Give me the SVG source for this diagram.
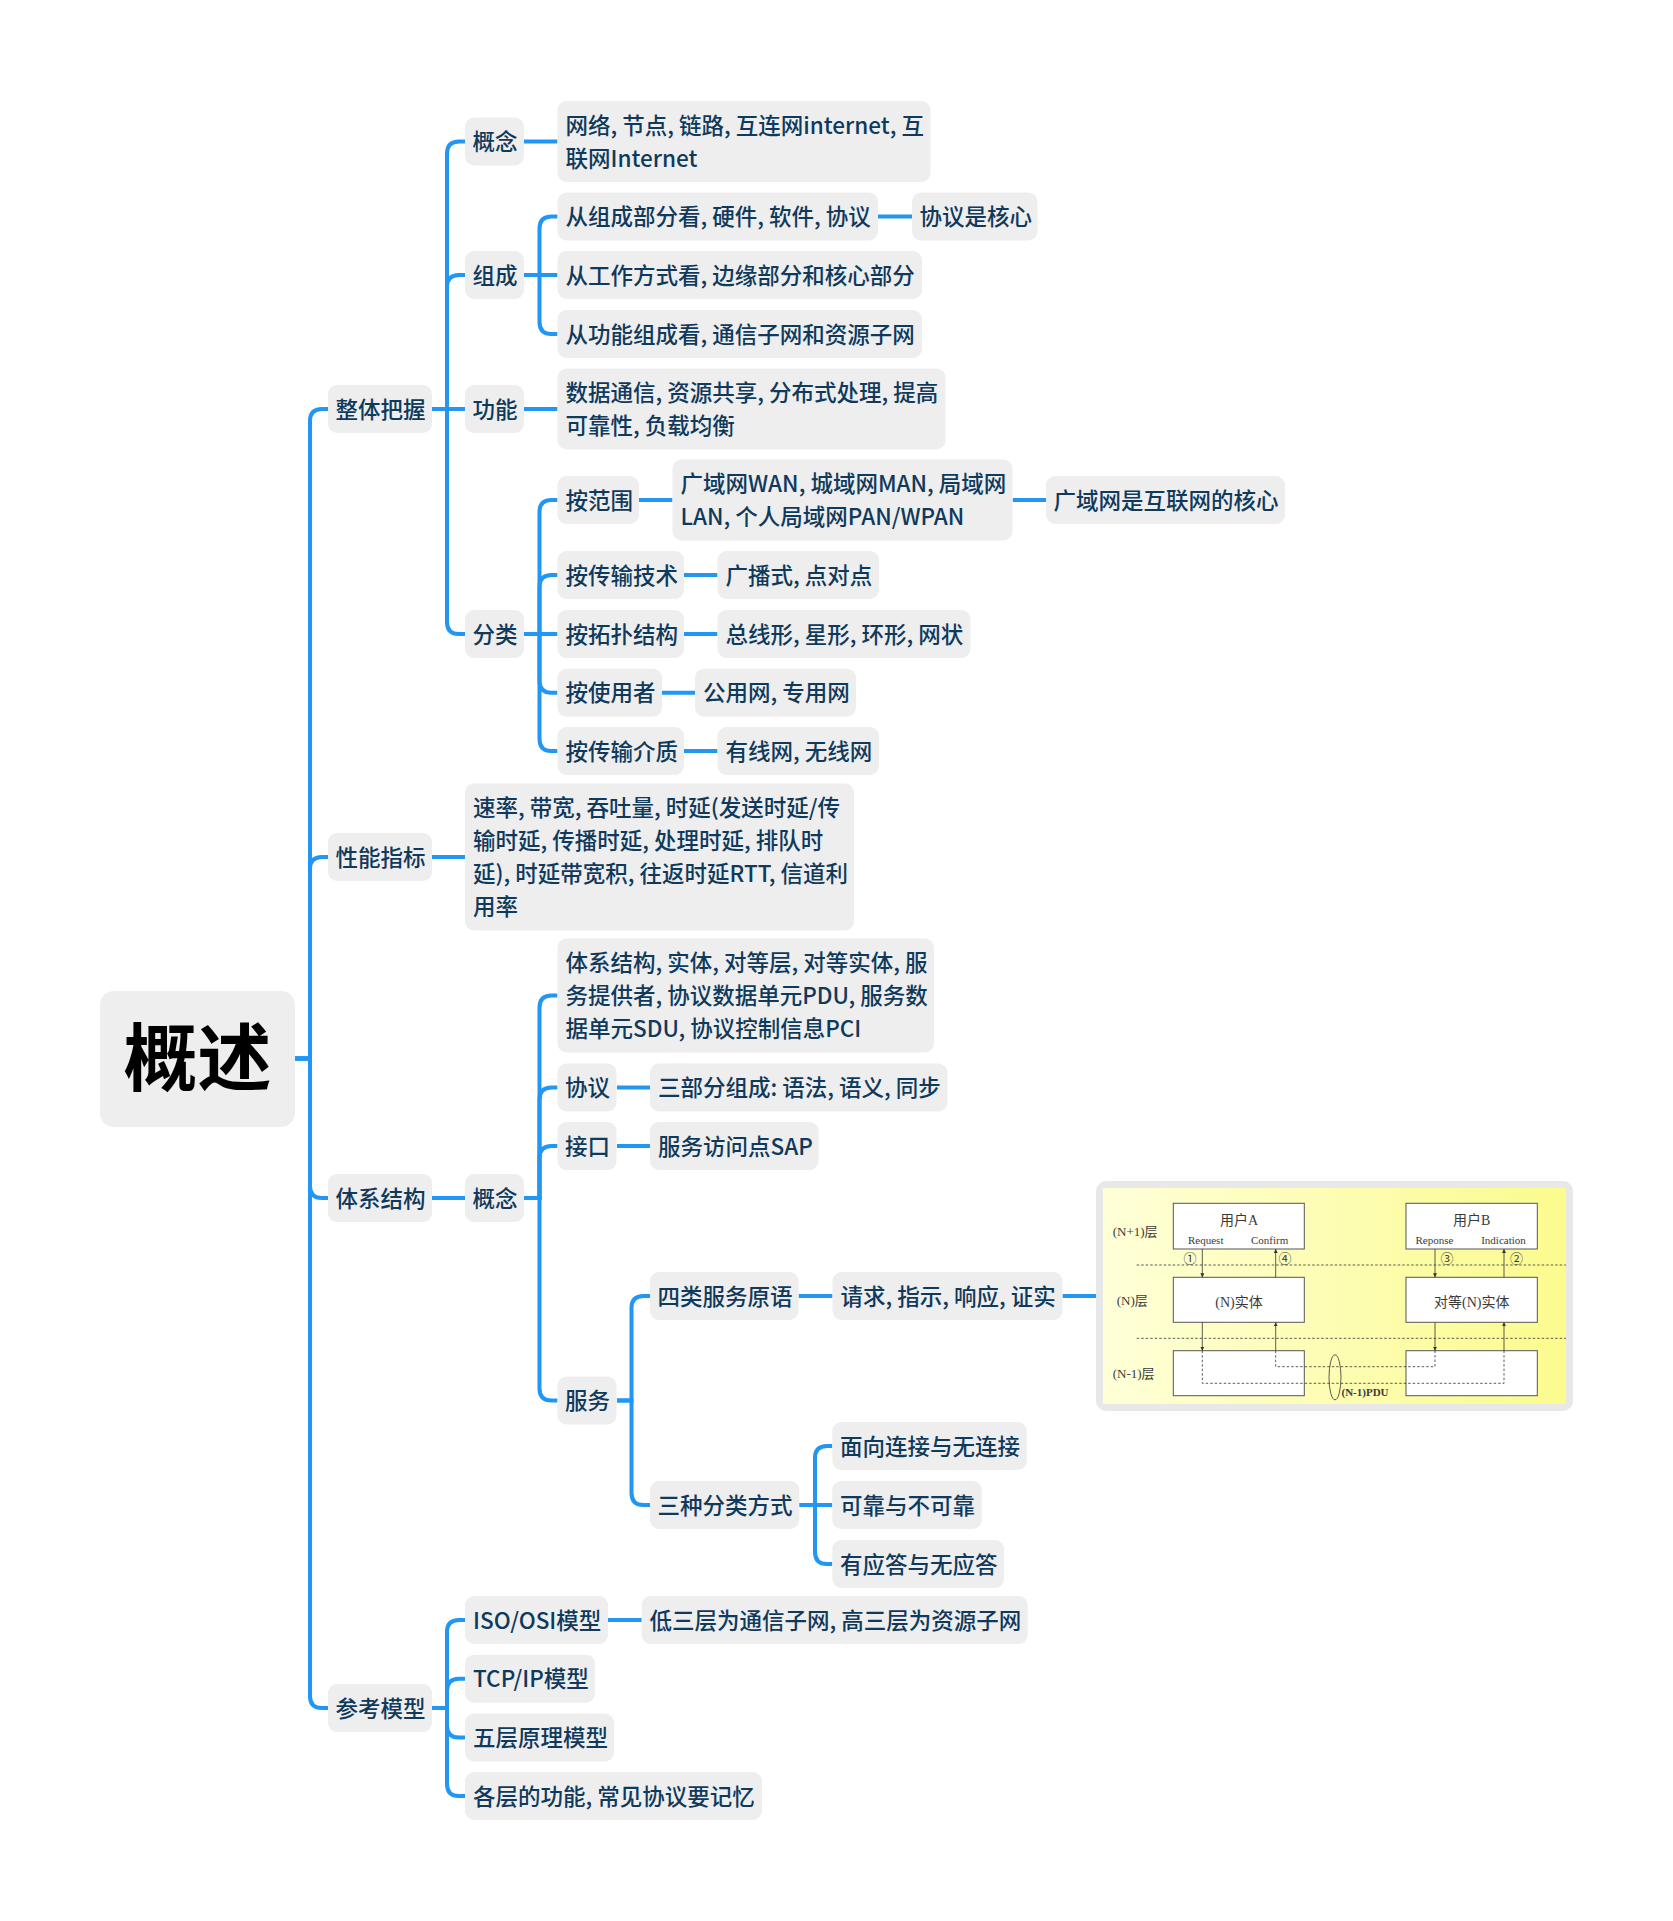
<svg xmlns="http://www.w3.org/2000/svg" width="1673" height="1921" viewBox="0 0 1673 1921">
<style>
.box{fill:#eeeeee}
.t{font-family:"Noto Sans CJK SC","Noto Sans",sans-serif;font-size:22.5px;fill:#103a5c;font-weight:500}
.root{font-family:"Noto Sans CJK SC",sans-serif;font-size:74px;font-weight:700;fill:#000}
.c{fill:none;stroke:#2196f3;stroke-width:4}
.ib{fill:#fff;stroke:#555;stroke-width:1}
.it{font-family:"Liberation Serif","Noto Sans CJK SC",serif;fill:#3a3a3a}
.al{stroke:#333;stroke-width:0.8;fill:none}
.dl{stroke:#333;stroke-width:0.8;fill:none;stroke-dasharray:2.5 2}
</style>
<defs>
<linearGradient id="yg" x1="0" y1="0" x2="1" y2="0">
<stop offset="0" stop-color="#ffffd8"/>
<stop offset="1" stop-color="#fbfb8e"/>
</linearGradient>
<marker id="ah" viewBox="0 0 6 6" refX="6" refY="3" markerWidth="5" markerHeight="5" orient="auto">
<path d="M0,0 L6,3 L0,6 z" fill="#333"/>
</marker>
</defs>
<rect width="1673" height="1921" fill="#fff"/>

<g id="connectors">
<path class="c" d="M295,1058.5 H310 V421 Q310,409 322,409 H328"/>
<path class="c" d="M295,1058.5 H310 V869 Q310,857 322,857 H328"/>
<path class="c" d="M295,1058.5 H310 V1186 Q310,1198 322,1198 H328"/>
<path class="c" d="M295,1058.5 H310 V1696 Q310,1708 322,1708 H328"/>

<path class="c" d="M432,409 H447 V153.5 Q447,141.5 459,141.5 H465"/>
<path class="c" d="M432,409 H447 V287 Q447,275 459,275 H465"/>
<path class="c" d="M432,409 H465"/>
<path class="c" d="M432,409 H447 V622 Q447,634 459,634 H465"/>
<path class="c" d="M432,857 H465"/>
<path class="c" d="M432,1198 H465"/>
<path class="c" d="M432,1708 H447 V1632 Q447,1620 459,1620 H465"/>
<path class="c" d="M432,1708 H447 V1690.7 Q447,1678.7 459,1678.7 H465"/>
<path class="c" d="M432,1708 H447 V1725.5 Q447,1737.5 459,1737.5 H465"/>
<path class="c" d="M432,1708 H447 V1784 Q447,1796 459,1796 H465"/>

<path class="c" d="M524,141.5 H557.5"/>
<path class="c" d="M524,275 H539.5 V228.5 Q539.5,216.5 551.5,216.5 H557.5"/>
<path class="c" d="M524,275 H557.5"/>
<path class="c" d="M524,275 H539.5 V322 Q539.5,334 551.5,334 H557.5"/>
<path class="c" d="M524,409 H557.5"/>
<path class="c" d="M524,634 H539.5 V512 Q539.5,500 551.5,500 H557.5"/>
<path class="c" d="M524,634 H539.5 V587 Q539.5,575 551.5,575 H557.5"/>
<path class="c" d="M524,634 H557.5"/>
<path class="c" d="M524,634 H539.5 V680.7 Q539.5,692.7 551.5,692.7 H557.5"/>
<path class="c" d="M524,634 H539.5 V739 Q539.5,751 551.5,751 H557.5"/>
<path class="c" d="M524,1198 H539.5 V1007.5 Q539.5,995.5 551.5,995.5 H557.5"/>
<path class="c" d="M524,1198 H539.5 V1099.5 Q539.5,1087.5 551.5,1087.5 H557.5"/>
<path class="c" d="M524,1198 H539.5 V1158 Q539.5,1146 551.5,1146 H557.5"/>
<path class="c" d="M524,1198 H539.5 V1388.5 Q539.5,1400.5 551.5,1400.5 H557.5"/>
<path class="c" d="M608,1620 H641.7"/>

<path class="c" d="M878,216.5 H912"/>
<path class="c" d="M639,500 H672.5"/>
<path class="c" d="M1012.7,500 H1046"/>
<path class="c" d="M684,575 H717.5"/>
<path class="c" d="M684,634 H717.5"/>
<path class="c" d="M662,692.7 H695"/>
<path class="c" d="M684,751 H717.5"/>
<path class="c" d="M617,1087.5 H650"/>
<path class="c" d="M617,1146 H650"/>
<path class="c" d="M617,1400.5 H631.5 V1308 Q631.5,1296 643.5,1296 H650"/>
<path class="c" d="M617,1400.5 H631.5 V1493 Q631.5,1505 643.5,1505 H650"/>
<path class="c" d="M798.6,1296 H832.5"/>
<path class="c" d="M1062.5,1296 H1096"/>
<path class="c" d="M799.3,1505 H815 V1458 Q815,1446 827,1446 H832.3"/>
<path class="c" d="M799.3,1505 H832.3"/>
<path class="c" d="M799.3,1505 H815 V1552 Q815,1564 827,1564 H832.3"/>
</g>

<g id="root">
<rect class="box" x="100" y="991" width="195" height="136" rx="14"/>
<text class="root" x="197.5" y="1085" text-anchor="middle">概述</text>
</g>

<g id="n-ztbw"><rect class="box" x="328" y="385" width="104" height="48" rx="9"/><text class="t" x="335.5" y="417.5">整体把握</text></g>
<g id="n-xnzb"><rect class="box" x="328" y="833" width="104" height="48" rx="9"/><text class="t" x="335.5" y="865.5">性能指标</text></g>
<g id="n-txjg"><rect class="box" x="328" y="1174" width="104" height="48" rx="9"/><text class="t" x="335.5" y="1206.5">体系结构</text></g>
<g id="n-ckmx"><rect class="box" x="328" y="1684" width="104" height="48" rx="9"/><text class="t" x="335.5" y="1716.5">参考模型</text></g>

<g id="n-gn1"><rect class="box" x="465" y="117.5" width="59" height="48" rx="9"/><text class="t" x="472.5" y="150">概念</text></g>
<g id="n-zc"><rect class="box" x="465" y="251" width="59" height="48" rx="9"/><text class="t" x="472.5" y="283.5">组成</text></g>
<g id="n-gnen"><rect class="box" x="465" y="385" width="59" height="48" rx="9"/><text class="t" x="472.5" y="417.5">功能</text></g>
<g id="n-fl"><rect class="box" x="465" y="610" width="59" height="48" rx="9"/><text class="t" x="472.5" y="642.5">分类</text></g>
<g id="n-sl"><rect class="box" x="465" y="783.5" width="389" height="147" rx="9"/>
<text class="t"><tspan x="473" y="816">速率, 带宽, 吞吐量, 时延(发送时延/传</tspan><tspan x="473" y="849">输时延, 传播时延, 处理时延, 排队时</tspan><tspan x="473" y="882">延), 时延带宽积, 往返时延RTT, 信道利</tspan><tspan x="473" y="915">用率</tspan></text></g>
<g id="n-gn2"><rect class="box" x="465" y="1174" width="59" height="48" rx="9"/><text class="t" x="472.5" y="1206.5">概念</text></g>
<g id="n-iso"><rect class="box" x="465" y="1596" width="143" height="48" rx="9"/><text class="t" x="473" y="1628.5">ISO/OSI模型</text></g>
<g id="n-tcp"><rect class="box" x="465" y="1654.7" width="130" height="48" rx="9"/><text class="t" x="473" y="1687.2">TCP/IP模型</text></g>
<g id="n-wc"><rect class="box" x="465" y="1713.5" width="149" height="48" rx="9"/><text class="t" x="473" y="1746">五层原理模型</text></g>
<g id="n-gc"><rect class="box" x="465" y="1772" width="297" height="48" rx="9"/><text class="t" x="473" y="1804.5">各层的功能, 常见协议要记忆</text></g>

<g id="n-wl"><rect class="box" x="557.5" y="101" width="373" height="81" rx="9"/>
<text class="t"><tspan x="565.5" y="133.5">网络, 节点, 链路, 互连网internet, 互</tspan><tspan x="565.5" y="166.5">联网Internet</tspan></text></g>
<g id="n-zcbf"><rect class="box" x="557.5" y="192.5" width="320.5" height="48" rx="9"/><text class="t" x="565.5" y="225">从组成部分看, 硬件, 软件, 协议</text></g>
<g id="n-xyhx"><rect class="box" x="912" y="192.5" width="125.5" height="48" rx="9"/><text class="t" x="919.5" y="225">协议是核心</text></g>
<g id="n-gzfs"><rect class="box" x="557.5" y="251" width="364.5" height="48" rx="9"/><text class="t" x="565.5" y="283.5">从工作方式看, 边缘部分和核心部分</text></g>
<g id="n-gnzc"><rect class="box" x="557.5" y="310" width="364.5" height="48" rx="9"/><text class="t" x="565.5" y="342.5">从功能组成看, 通信子网和资源子网</text></g>
<g id="n-sjtx"><rect class="box" x="557.5" y="368.5" width="388" height="81" rx="9"/>
<text class="t"><tspan x="565.5" y="401">数据通信, 资源共享, 分布式处理, 提高</tspan><tspan x="565.5" y="434">可靠性, 负载均衡</tspan></text></g>

<g id="n-afw"><rect class="box" x="557.5" y="476" width="81.5" height="48" rx="9"/><text class="t" x="565.5" y="508.5">按范围</text></g>
<g id="n-wan"><rect class="box" x="672.5" y="459.5" width="340" height="81" rx="9"/>
<text class="t"><tspan x="680.5" y="492">广域网WAN, 城域网MAN, 局域网</tspan><tspan x="680.5" y="525">LAN, 个人局域网PAN/WPAN</tspan></text></g>
<g id="n-ywhx"><rect class="box" x="1046" y="476" width="239" height="48" rx="9"/><text class="t" x="1053.5" y="508.5">广域网是互联网的核心</text></g>
<g id="n-acsjs"><rect class="box" x="557.5" y="551" width="126.5" height="48" rx="9"/><text class="t" x="565.5" y="583.5">按传输技术</text></g>
<g id="n-gbs"><rect class="box" x="717.5" y="551" width="161.5" height="48" rx="9"/><text class="t" x="725.5" y="583.5">广播式, 点对点</text></g>
<g id="n-atp"><rect class="box" x="557.5" y="610" width="126.5" height="48" rx="9"/><text class="t" x="565.5" y="642.5">按拓扑结构</text></g>
<g id="n-zxx"><rect class="box" x="717.5" y="610" width="253" height="48" rx="9"/><text class="t" x="725.5" y="642.5">总线形, 星形, 环形, 网状</text></g>
<g id="n-asyz"><rect class="box" x="557.5" y="668.7" width="104.5" height="48" rx="9"/><text class="t" x="565.5" y="701.2">按使用者</text></g>
<g id="n-gyw"><rect class="box" x="695" y="668.7" width="161" height="48" rx="9"/><text class="t" x="703" y="701.2">公用网, 专用网</text></g>
<g id="n-acsjz"><rect class="box" x="557.5" y="727" width="126.5" height="48" rx="9"/><text class="t" x="565.5" y="759.5">按传输介质</text></g>
<g id="n-yxw"><rect class="box" x="717.5" y="727" width="161.5" height="48" rx="9"/><text class="t" x="725.5" y="759.5">有线网, 无线网</text></g>

<g id="n-txjgl"><rect class="box" x="557.5" y="938.5" width="376.5" height="114" rx="9"/>
<text class="t"><tspan x="565.5" y="971">体系结构, 实体, 对等层, 对等实体, 服</tspan><tspan x="565.5" y="1004">务提供者, 协议数据单元PDU, 服务数</tspan><tspan x="565.5" y="1037">据单元SDU, 协议控制信息PCI</tspan></text></g>
<g id="n-xy"><rect class="box" x="557.5" y="1063.5" width="59" height="48" rx="9"/><text class="t" x="565" y="1096">协议</text></g>
<g id="n-sbf"><rect class="box" x="650" y="1063.5" width="297.5" height="48" rx="9"/><text class="t" x="658" y="1096">三部分组成: 语法, 语义, 同步</text></g>
<g id="n-jk"><rect class="box" x="557.5" y="1122" width="59" height="48" rx="9"/><text class="t" x="565" y="1154.5">接口</text></g>
<g id="n-sap"><rect class="box" x="650" y="1122" width="168.6" height="48" rx="9"/><text class="t" x="658" y="1154.5">服务访问点SAP</text></g>
<g id="n-fw"><rect class="box" x="557.5" y="1376.5" width="59" height="48" rx="9"/><text class="t" x="565" y="1409">服务</text></g>
<g id="n-slfw"><rect class="box" x="650" y="1272" width="148.6" height="48" rx="9"/><text class="t" x="657.5" y="1304.5">四类服务原语</text></g>
<g id="n-qq"><rect class="box" x="832.5" y="1272" width="230" height="48" rx="9"/><text class="t" x="840.5" y="1304.5">请求, 指示, 响应, 证实</text></g>
<g id="n-szfl"><rect class="box" x="650" y="1481" width="149.3" height="48" rx="9"/><text class="t" x="657.5" y="1513.5">三种分类方式</text></g>
<g id="n-mxlj"><rect class="box" x="832.3" y="1422" width="194.4" height="48" rx="9"/><text class="t" x="840" y="1454.5">面向连接与无连接</text></g>
<g id="n-kk"><rect class="box" x="832.3" y="1481" width="149.4" height="48" rx="9"/><text class="t" x="840" y="1513.5">可靠与不可靠</text></g>
<g id="n-yyd"><rect class="box" x="832.3" y="1540" width="171.7" height="48" rx="9"/><text class="t" x="840" y="1572.5">有应答与无应答</text></g>
<g id="n-dsc"><rect class="box" x="641.7" y="1596" width="386" height="48" rx="9"/><text class="t" x="649.5" y="1628.5">低三层为通信子网, 高三层为资源子网</text></g>

<g id="n-image">
<rect x="1096" y="1181" width="477" height="230" rx="10" fill="#e8e8e8"/>
<rect x="1103" y="1188" width="463" height="216" fill="url(#yg)"/>
<rect class="ib" x="1173.3" y="1203.3" width="131" height="45.7"/>
<rect class="ib" x="1406" y="1203.3" width="131.3" height="45.7"/>
<rect class="ib" x="1173.3" y="1277.3" width="131" height="45"/>
<rect class="ib" x="1406" y="1277.3" width="131.3" height="45"/>
<rect class="ib" x="1173.3" y="1350.7" width="131" height="45"/>
<rect class="ib" x="1406" y="1350.7" width="131.3" height="45"/>
<line class="dl" x1="1136.7" y1="1265" x2="1566" y2="1265"/>
<line class="dl" x1="1136.7" y1="1338.3" x2="1566" y2="1338.3"/>
<line class="al" x1="1202.3" y1="1249" x2="1202.3" y2="1277.3" marker-end="url(#ah)"/>
<line class="al" x1="1202.3" y1="1322.3" x2="1202.3" y2="1350.7" marker-end="url(#ah)"/>
<line class="al" x1="1275.7" y1="1277.3" x2="1275.7" y2="1249" marker-end="url(#ah)"/>
<line class="al" x1="1275.7" y1="1350.7" x2="1275.7" y2="1322.3" marker-end="url(#ah)"/>
<line class="al" x1="1435" y1="1249" x2="1435" y2="1277.3" marker-end="url(#ah)"/>
<line class="al" x1="1435" y1="1322.3" x2="1435" y2="1350.7" marker-end="url(#ah)"/>
<line class="al" x1="1504" y1="1277.3" x2="1504" y2="1249" marker-end="url(#ah)"/>
<line class="al" x1="1504" y1="1350.7" x2="1504" y2="1322.3" marker-end="url(#ah)"/>
<path class="dl" d="M1202.3,1350.7 V1383.3 H1504 V1350.7"/>
<path class="dl" d="M1275.7,1350.7 V1366.7 H1435 V1350.7"/>
<ellipse class="al" cx="1335" cy="1377.3" rx="6" ry="22.5"/>
<text class="it" x="1239" y="1224.5" font-size="14" text-anchor="middle">用户A</text>
<text class="it" x="1471.7" y="1224.5" font-size="14" text-anchor="middle">用户B</text>
<text class="it" x="1188" y="1243.5" font-size="11">Request</text>
<text class="it" x="1251" y="1243.5" font-size="11">Confirm</text>
<text class="it" x="1415.5" y="1243.5" font-size="11">Reponse</text>
<text class="it" x="1481.2" y="1243.5" font-size="11">Indication</text>
<text class="it" x="1190" y="1263" font-size="13" text-anchor="middle">①</text>
<text class="it" x="1285" y="1263" font-size="13" text-anchor="middle">④</text>
<text class="it" x="1447" y="1263" font-size="13" text-anchor="middle">③</text>
<text class="it" x="1516.5" y="1263" font-size="13" text-anchor="middle">②</text>
<text class="it" x="1112.7" y="1236" font-size="13">(N+1)层</text>
<text class="it" x="1116.7" y="1304.5" font-size="13">(N)层</text>
<text class="it" x="1112.7" y="1378" font-size="13">(N-1)层</text>
<text class="it" x="1239" y="1307" font-size="14" text-anchor="middle">(N)实体</text>
<text class="it" x="1471.7" y="1307" font-size="14" text-anchor="middle">对等(N)实体</text>
<text class="it" x="1341.5" y="1395.5" font-size="11" font-weight="700">(N-1)PDU</text>
</g>
</svg>
